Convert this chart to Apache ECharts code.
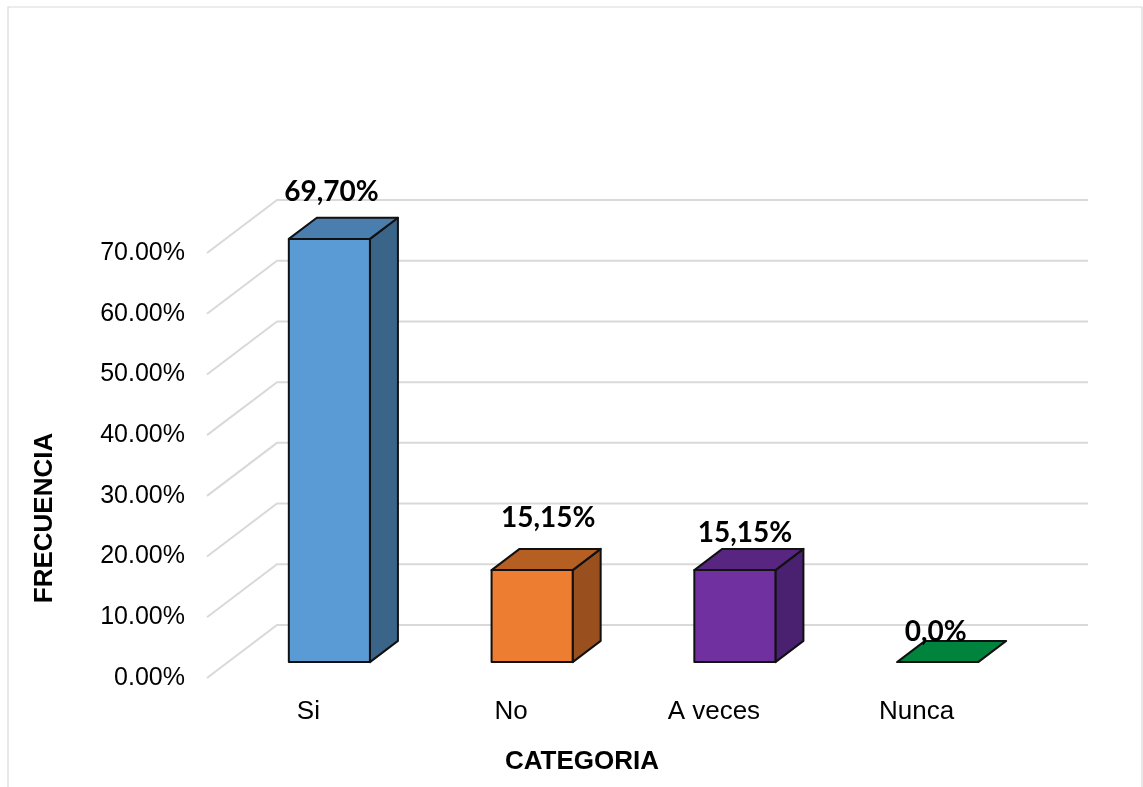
<!DOCTYPE html>
<html>
<head>
<meta charset="utf-8">
<script src="https://cdn.jsdelivr.net/npm/echarts@6/dist/echarts.min.js"></script>
<style>
  html, body { margin: 0; padding: 0; background: #ffffff; }
  #chart { width: 1143px; height: 787px; }
</style>
</head>
<body>
<div id="chart"></div>
<script>
// Survey results by category (percent)
const categories = ['Si', 'No', 'A veces', 'Nunca'];
const values = [69.70, 15.15, 15.15, 0.0];
const valueLabels = ['69,70%', '15,15%', '15,15%', '0,0%'];
const yTicks = [0, 10, 20, 30, 40, 50, 60, 70];

// Face colours: front, top, side
const frontColors = ['#5B9BD5', '#ED7D31', '#7030A0', '#00843D'];
const topColors   = ['#4A7EAF', '#B55F23', '#582681', '#00843D'];
const sideColors  = ['#3B6489', '#9A501E', '#4A2070', '#006B31'];

// Oblique depth of the plot box (pixels) and the bar slab inside it
const DEPTH_X = 70, DEPTH_Y = -53;
const BAR_Z0 = 0.3, BAR_Z1 = 0.7, BAR_WIDTH = 0.4;
// Small nudges for the value labels [dx, dy] relative to the bar's front top
const labelShift = [[2, -47], [16, -52], [10, -37], [-2, -30]];

const chart = echarts.init(document.getElementById('chart'), null, { renderer: 'canvas' });

function gridRender(params, api) {
  const cs = params.coordSys;
  const y = api.coord([0, api.value(1)])[1];
  const x0 = cs.x, xR = cs.x + cs.width;
  return {
    type: 'polyline',
    shape: { points: [[x0, y], [x0 + DEPTH_X, y + DEPTH_Y], [xR + DEPTH_X, y + DEPTH_Y]] },
    style: { stroke: '#D9D9D9', lineWidth: 2, fill: null },
    silent: true
  };
}

function barRender(params, api) {
  const i = api.value(0);
  const v = api.value(1);
  const base = api.coord([i, 0]);
  const top = api.coord([i, v]);
  const band = api.size([1, 0])[0];
  const w = band * BAR_WIDTH;
  const ox = DEPTH_X * BAR_Z0, oy = DEPTH_Y * BAR_Z0;
  const dx = DEPTH_X * (BAR_Z1 - BAR_Z0), dy = DEPTH_Y * (BAR_Z1 - BAR_Z0);
  const x0 = base[0] + ox - w / 2, x1 = x0 + w;
  const yb = base[1] + oy, yt = top[1] + oy;
  const edge = { stroke: '#111111', lineWidth: 2, lineJoin: 'round' };
  const children = [];
  if (yb - yt > 0.5) {
    children.push({
      type: 'polygon',
      shape: { points: [[x1, yt], [x1 + dx, yt + dy], [x1 + dx, yb + dy], [x1, yb]] },
      style: Object.assign({ fill: sideColors[i] }, edge)
    });
    children.push({
      type: 'rect',
      shape: { x: x0, y: yt, width: w, height: yb - yt },
      style: Object.assign({ fill: frontColors[i] }, edge)
    });
  }
  children.push({
    type: 'polygon',
    shape: { points: [[x0, yt], [x1, yt], [x1 + dx, yt + dy], [x0 + dx, yt + dy]] },
    style: Object.assign({ fill: topColors[i] }, edge)
  });
  const s = labelShift[i];
  children.push({
    type: 'text',
    x: (x0 + x1) / 2 + s[0],
    y: yt + s[1],
    style: {
      text: valueLabels[i],
      font: 'bold 28px Lato, "Noto Sans", sans-serif',
      fill: '#000000',
      align: 'center',
      verticalAlign: 'middle'
    },
    z2: 10
  });
  return { type: 'group', children: children };
}

const option = {
  backgroundColor: '#ffffff',
  animation: false,
  grid: { left: 207, right: 125, top: 253, bottom: 109, containLabel: false },
  xAxis: {
    type: 'category',
    data: categories,
    axisLine: { show: false },
    axisTick: { show: false },
    splitLine: { show: false },
    axisLabel: {
      margin: 21,
      color: '#000000',
      fontSize: 26,
      fontFamily: '"Liberation Sans", Arial, sans-serif'
    }
  },
  yAxis: {
    type: 'value',
    min: 0,
    max: 70,
    interval: 10,
    axisLine: { show: false },
    axisTick: { show: false },
    splitLine: { show: false },
    axisLabel: {
      margin: 22,
      color: '#000000',
      fontSize: 25,
      fontFamily: '"Liberation Sans", Arial, sans-serif',
      formatter: function (v) { return v.toFixed(2) + '%'; }
    }
  },
  graphic: [
    {
      type: 'rect',
      shape: { x: 8, y: 7, width: 1134, height: 800 },
      style: { fill: null, stroke: '#D9D9D9', lineWidth: 1.2 },
      silent: true, z: -10
    },
    {
      type: 'text',
      x: 582, y: 762,
      style: {
        text: 'CATEGORIA',
        font: 'bold 26px "Liberation Sans", Arial, sans-serif',
        fill: '#000000', align: 'center', verticalAlign: 'middle'
      }
    },
    {
      type: 'text',
      x: 45, y: 518,
      rotation: Math.PI / 2,
      style: {
        text: 'FRECUENCIA',
        font: 'bold 26px "Liberation Sans", Arial, sans-serif',
        fill: '#000000', align: 'center', verticalAlign: 'middle'
      }
    }
  ],
  series: [
    {
      type: 'custom',
      renderItem: gridRender,
      data: yTicks.map(function (t) { return [0, t]; }),
      clip: false,
      silent: true,
      z: 1
    },
    {
      type: 'custom',
      renderItem: barRender,
      data: values.map(function (v, i) { return [i, v]; }),
      clip: false,
      z: 5
    }
  ]
};

chart.setOption(option);
</script>
</body>
</html>
